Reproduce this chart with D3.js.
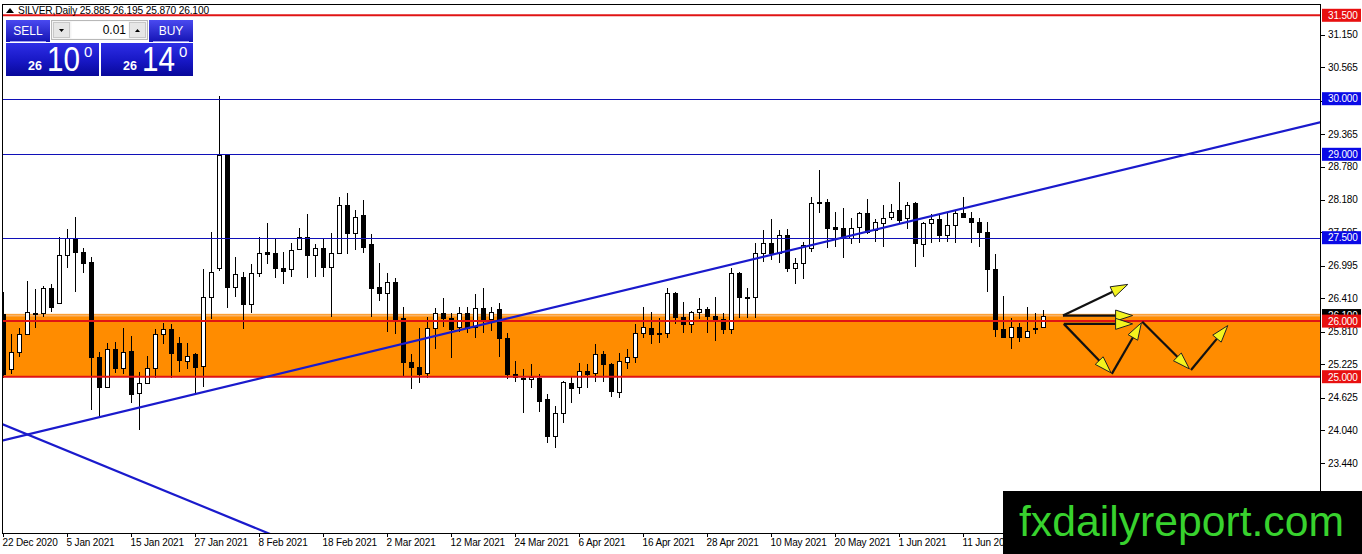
<!DOCTYPE html>
<html><head><meta charset="utf-8">
<script src="https://cdn.jsdelivr.net/npm/d3@7/dist/d3.min.js"></script>
<style>html,body{margin:0;padding:0;background:#fff;overflow:hidden}svg{display:block}</style>
</head><body>
<svg id="chart" width="1362" height="554"></svg>
<script>
// ---------------- DATA ----------------
const symbolTitle = "SILVER,Daily";
const headerValues = ["25.885", "26.195", "25.870", "26.100"];

const opens = [26.12,25.13,25.45,25.76,26.15,26.15,26.59,26.32,27.18,27.47,27.25,27.07,25.36,24.82,25.50,25.16,25.47,24.70,24.89,25.16,
25.77,25.85,25.60,25.29,25.41,25.20,26.44,26.95,28.98,26.62,26.80,26.30,26.86,27.24,27.22,26.96,26.93,27.29,27.52,27.18,
27.31,26.98,27.22,28.08,27.59,27.90,27.38,26.62,26.51,26.71,26.05,25.27,25.18,25.07,25.88,26.15,26.06,25.90,26.15,25.90,
26.24,26.03,26.22,25.70,25.04,24.98,24.96,24.98,24.60,23.94,24.35,24.89,24.82,25.11,25.07,25.40,25.23,24.73,25.27,25.36,
25.79,25.88,25.79,25.79,26.50,26.08,25.94,26.17,26.21,26.10,26.04,25.85,26.86,26.44,26.44,27.23,27.40,27.23,27.54,26.96,
27.04,27.32,28.12,28.14,27.70,27.68,27.49,27.70,27.95,27.63,27.77,27.88,27.99,27.85,28.12,27.38,27.76,27.83,27.54,27.72,
27.94,27.86,27.79,27.61,26.93,25.85,25.72,25.90,25.72,25.85,25.885];
const highs = [26.53,25.76,25.88,26.73,26.57,26.64,26.66,27.52,27.65,27.88,27.32,27.16,25.45,25.60,25.63,25.88,25.74,25.09,25.38,25.86,
25.97,25.94,25.72,25.61,25.43,26.93,27.61,30.05,28.99,27.16,26.89,27.02,27.52,27.77,27.50,27.25,27.40,27.67,27.92,27.38,
27.50,27.58,28.24,28.30,27.99,28.17,27.56,27.04,26.86,26.78,26.26,25.41,25.88,26.08,26.23,26.42,26.15,26.26,26.26,26.48,
26.60,26.26,26.33,25.79,25.29,25.14,25.22,25.05,24.69,24.48,24.93,25.02,25.25,25.23,25.58,25.47,25.24,25.43,25.50,25.95,
26.26,26.17,26.05,26.60,26.53,26.35,26.19,26.42,26.26,26.44,26.15,26.96,26.89,26.59,27.41,27.63,27.83,27.63,27.65,27.14,
27.43,28.24,28.71,28.19,27.97,28.03,27.86,27.97,28.19,27.83,28.08,28.10,28.51,28.15,28.15,27.79,27.92,27.92,27.95,27.99,
28.24,27.97,27.86,27.79,27.20,26.46,26.05,25.97,26.26,26.15,26.195];
const lows = [24.98,25.04,25.36,25.76,25.88,26.08,26.17,26.30,26.95,26.53,26.87,24.41,24.26,24.80,25.07,25.04,24.53,24.05,24.86,24.98,
25.59,24.98,25.09,25.13,24.68,24.82,26.03,26.90,26.24,26.44,25.85,26.15,26.80,27.02,26.78,26.66,26.80,27.27,26.78,26.80,
26.80,26.08,27.20,27.20,27.27,27.23,26.08,26.37,25.81,25.77,25.02,24.78,24.89,24.98,25.50,25.90,25.34,25.81,25.79,25.70,
25.79,25.83,25.36,24.96,24.91,24.35,24.80,24.37,23.81,23.72,24.17,24.53,24.69,24.80,24.91,24.91,24.64,24.62,25.13,25.25,
25.70,25.58,25.61,25.70,25.94,25.79,25.79,26.03,25.79,25.65,25.76,25.76,26.06,26.06,26.06,27.07,27.10,27.05,26.89,26.66,
26.75,27.25,27.95,27.32,27.34,27.14,27.38,27.41,27.56,27.43,27.34,27.81,27.77,27.65,26.98,27.16,27.41,27.43,27.43,27.41,
27.85,27.41,27.34,26.53,25.72,25.70,25.49,25.63,25.70,25.77,25.870];
const closes = [25.04,25.45,25.77,26.17,26.13,26.60,26.26,27.18,27.49,27.25,27.05,25.36,24.82,25.50,25.16,25.45,24.68,24.89,25.16,25.76,
25.85,25.43,25.30,25.38,25.18,26.44,26.89,28.98,26.62,26.84,26.30,26.86,27.22,27.20,26.96,26.91,27.27,27.52,27.18,27.32,
26.98,27.22,28.08,27.58,27.88,27.34,26.60,26.51,26.71,26.01,25.27,25.18,25.05,25.88,26.15,26.06,25.86,26.15,25.88,26.24,
26.03,26.17,25.70,25.04,25.00,24.96,25.00,24.57,23.94,24.35,24.91,24.80,25.11,25.05,25.40,25.22,24.75,25.29,25.36,25.79,
25.90,25.77,25.77,26.50,26.08,25.95,26.17,26.21,26.10,26.04,25.85,26.86,26.44,26.41,27.23,27.40,27.23,27.54,26.96,27.04,
27.36,28.12,28.14,27.68,27.66,27.49,27.68,27.94,27.61,27.79,27.86,27.97,27.81,28.08,27.40,27.76,27.83,27.54,27.72,27.94,
27.88,27.79,27.61,26.93,25.85,25.72,25.90,25.72,25.83,25.88,26.100];

// date labels: bar index -> label
const dateTickBars   = [0, 8, 16, 24, 32, 40, 48, 56, 64, 72, 80, 88, 96, 104, 112, 120];
const dateTickLabels = ["22 Dec 2020","5 Jan 2021","15 Jan 2021","27 Jan 2021","8 Feb 2021","18 Feb 2021","2 Mar 2021",
  "12 Mar 2021","24 Mar 2021","6 Apr 2021","16 Apr 2021","28 Apr 2021","10 May 2021","20 May 2021","1 Jun 2021","11 Jun 2021"];

const priceTicks = [31.150, 30.565, 29.965, 29.365, 28.780, 28.180, 27.595, 26.995, 26.410, 25.810, 25.225, 24.625, 24.040, 23.440];

const redLevels  = [31.5, 26.0, 25.0];
const blueLevels = [30.0, 29.0, 27.5];
const zoneRange  = [25.0, 26.13];
const bidPrice   = 26.100;

// trend lines: [barIndex, price] anchors
const trendUp   = [[-0.125, 23.85], [164.75, 29.58]];
const trendDown = [[-0.125, 24.15], [40, 21.78]];

// forecast arrows: each arrow [[barFrom, priceFrom],[barTo, priceTo]]
const arrows = [
  [[132.5, 26.10], [140.6, 26.66]],
  [[132.5, 26.10], [141.2, 26.10]],
  [[132.6, 25.95], [141.2, 25.95]],
  [[132.6, 25.95], [138.5, 25.07]],
  [[138.6, 25.05], [142.3, 25.97]],
  [[142.4, 25.99], [148.3, 25.14]],
  [[148.5, 25.12], [153.1, 25.92]]
];

const sellPrice = {big: "26", main: "10", sup: "0"};
const buyPrice  = {big: "26", main: "14", sup: "0"};
const lotSize = "0.01";
const watermark = "fxdailyreport.com";

// ---------------- CHART ----------------
const W = 1362, H = 554;
const L = 2, T = 4, R = 1321, B = 533;
const svg = d3.select("#chart");
const FONT = "'Liberation Sans', Arial, sans-serif";

const x = d3.scaleLinear().domain([-0.125, 164.75]).range([L, R]);
const y = d3.scaleLinear().domain([22.189, 31.703]).range([B, T]);

svg.append("rect").attr("width", W).attr("height", H).attr("fill", "#fff");

const defs = svg.append("defs");
defs.append("clipPath").attr("id", "plot").append("rect")
  .attr("x", L).attr("y", T).attr("width", R - L).attr("height", B - T);

const plot = svg.append("g").attr("clip-path", "url(#plot)");

// orange zone
plot.append("rect")
  .attr("x", L).attr("width", R - L)
  .attr("y", y(zoneRange[1])).attr("height", y(zoneRange[0]) - y(zoneRange[1]))
  .attr("fill", "#ff8c00");
// bid line
plot.append("line").attr("x1", L).attr("x2", R)
  .attr("y1", y(bidPrice)).attr("y2", y(bidPrice))
  .attr("stroke", "#f9b46a").attr("stroke-width", 2);

// candles
const bars = d3.range(opens.length).map(i => ({i, o: opens[i], h: highs[i], l: lows[i], c: closes[i]}));
const cg = plot.append("g").attr("shape-rendering", "crispEdges");
bars.forEach(d => {
  const cx = Math.round(x(d.i));
  cg.append("line").attr("x1", cx + 0.5).attr("x2", cx + 0.5)
    .attr("y1", y(d.h)).attr("y2", y(d.l)).attr("stroke", "#000").attr("stroke-width", 1);
  const top = y(Math.max(d.o, d.c)), bot = y(Math.min(d.o, d.c));
  const up = d.c >= d.o;
  cg.append("rect").attr("x", cx - 1.5).attr("width", 4)
    .attr("y", Math.round(top) + 0.5).attr("height", Math.max(1, Math.round(bot) - Math.round(top)))
    .attr("fill", up ? "#fff" : "#000").attr("stroke", "#000").attr("stroke-width", 1);
});

// horizontal levels
blueLevels.forEach(p => {
  plot.append("line").attr("x1", L).attr("x2", R).attr("y1", Math.round(y(p)) + 0.5).attr("y2", Math.round(y(p)) + 0.5)
    .attr("stroke", "#1010b8").attr("stroke-width", 1);
});
redLevels.forEach(p => {
  plot.append("line").attr("x1", L).attr("x2", R).attr("y1", y(p)).attr("y2", y(p))
    .attr("stroke", "#e01414").attr("stroke-width", 2);
});

// trend lines
[trendUp, trendDown].forEach(tl => {
  plot.append("line")
    .attr("x1", x(tl[0][0])).attr("y1", y(tl[0][1]))
    .attr("x2", x(tl[1][0])).attr("y2", y(tl[1][1]))
    .attr("stroke", "#1a1acc").attr("stroke-width", 2.2);
});

// arrows
const ag = plot.append("g");
arrows.forEach(a => {
  const x0 = x(a[0][0]), y0 = y(a[0][1]), x1 = x(a[1][0]), y1 = y(a[1][1]);
  const dx = x1 - x0, dy = y1 - y0, len = Math.hypot(dx, dy);
  const ux = dx / len, uy = dy / len, px = -uy, py = ux;
  const hl = 17, hw = 5.5;
  const bx = x1 - ux * hl, by = y1 - uy * hl;
  ag.append("line").attr("x1", x0).attr("y1", y0).attr("x2", bx + ux * 2).attr("y2", by + uy * 2)
    .attr("stroke", "#111").attr("stroke-width", 2.2);
  ag.append("path")
    .attr("d", `M${x1},${y1}L${bx + px * hw},${by + py * hw}L${bx - px * hw},${by - py * hw}Z`)
    .attr("fill", "#f4f41e").attr("stroke", "#222").attr("stroke-width", 1);
});

// frame
svg.append("rect").attr("x", L + 0.5).attr("y", T + 0.5).attr("width", R - L - 1).attr("height", B - T)
  .attr("fill", "none").attr("stroke", "#000").attr("stroke-width", 1).attr("shape-rendering", "crispEdges");

// right axis ticks
const ax = svg.append("g").attr("font-family", FONT).attr("font-size", 10).attr("fill", "#000");
priceTicks.forEach(p => {
  const yy = Math.round(y(p)) + 0.5;
  ax.append("line").attr("x1", R).attr("x2", R + 4).attr("y1", yy).attr("y2", yy)
    .attr("stroke", "#000").attr("shape-rendering", "crispEdges");
  ax.append("text").attr("x", R + 7).attr("y", y(p) + 3.6).attr("letter-spacing", -0.15).text(p.toFixed(3));
});

// bottom axis
dateTickBars.forEach((b, k) => {
  const xx = Math.round(x(b)) + 0.5;
  ax.append("line").attr("x1", xx).attr("x2", xx).attr("y1", B).attr("y2", B + 4)
    .attr("stroke", "#000").attr("shape-rendering", "crispEdges");
  ax.append("text").attr("x", x(b) - 0.5).attr("y", B + 13).attr("letter-spacing", -0.15).text(dateTickLabels[k]);
});

// price labels on axis
function priceLabel(p, bg) {
  const yy = y(p);
  ax.append("rect").attr("x", R + 1).attr("y", yy - 6.5).attr("width", W - R - 2).attr("height", 13).attr("fill", bg);
  ax.append("text").attr("x", R + 7).attr("y", yy + 3.8).attr("fill", "#fff").attr("letter-spacing", -0.15).text(p.toFixed(3));
}
priceLabel(bidPrice, "#000");
blueLevels.forEach(p => priceLabel(p, "#0a0ae6"));
redLevels.forEach(p => priceLabel(p, "#e81010"));

// header
svg.append("path").attr("d", "M6,13 L10,8 L14,13 Z").attr("fill", "#000");
svg.append("text").attr("x", 18).attr("y", 13.5).attr("font-family", FONT).attr("font-size", 10.2)
  .attr("letter-spacing", -0.15).attr("fill", "#000")
  .text(symbolTitle + "  " + headerValues.join(" "));

// trading panel
const gBtn = defs.append("linearGradient").attr("id", "gbtn").attr("x1", 0).attr("x2", 0).attr("y1", 0).attr("y2", 1);
gBtn.append("stop").attr("offset", 0).attr("stop-color", "#4a4af0");
gBtn.append("stop").attr("offset", 1).attr("stop-color", "#1414b4");
const gBox = defs.append("linearGradient").attr("id", "gbox").attr("x1", 0).attr("x2", 0).attr("y1", 0).attr("y2", 1);
gBox.append("stop").attr("offset", 0).attr("stop-color", "#2e2ee6");
gBox.append("stop").attr("offset", 0.55).attr("stop-color", "#1717c4");
gBox.append("stop").attr("offset", 1).attr("stop-color", "#08089a");

const pn = svg.append("g").attr("font-family", FONT);
pn.append("rect").attr("x", 6).attr("y", 20).attr("width", 44).attr("height", 22).attr("fill", "url(#gbtn)");
pn.append("rect").attr("x", 149).attr("y", 20).attr("width", 44).attr("height", 22).attr("fill", "url(#gbtn)");
pn.append("line").attr("x1", 10).attr("x2", 46).attr("y1", 41.5).attr("y2", 41.5).attr("stroke", "#9c9cf0");
pn.append("line").attr("x1", 153).attr("x2", 189).attr("y1", 41.5).attr("y2", 41.5).attr("stroke", "#9c9cf0");
pn.append("text").attr("x", 28).attr("y", 35).attr("text-anchor", "middle").attr("font-size", 12).attr("fill", "#fff").text("SELL");
pn.append("text").attr("x", 171).attr("y", 35).attr("text-anchor", "middle").attr("font-size", 12).attr("fill", "#fff").text("BUY");
// spinner
pn.append("rect").attr("x", 51.5).attr("y", 20.5).attr("width", 96).attr("height", 19).attr("fill", "#f4f4f4").attr("stroke", "#b8b8b8");
pn.append("rect").attr("x", 53.5).attr("y", 22.5).attr("width", 16).attr("height", 15).attr("fill", "#e6e6e6").attr("stroke", "#c8c8c8");
pn.append("rect").attr("x", 71.5).attr("y", 21.5).attr("width", 57).attr("height", 17).attr("fill", "#fff");
pn.append("rect").attr("x", 129.5).attr("y", 22.5).attr("width", 16).attr("height", 15).attr("fill", "#e6e6e6").attr("stroke", "#c8c8c8");
pn.append("path").attr("d", "M59,29 L64,29 L61.5,32 Z").attr("fill", "#000");
pn.append("path").attr("d", "M135,32 L140,32 L137.5,29 Z").attr("fill", "#000");
pn.append("text").attr("x", 126).attr("y", 34).attr("text-anchor", "end").attr("font-size", 12).attr("fill", "#000").text(lotSize);
// price boxes
pn.append("rect").attr("x", 6).attr("y", 43).attr("width", 93).attr("height", 33).attr("fill", "url(#gbox)");
pn.append("rect").attr("x", 101).attr("y", 43).attr("width", 92).attr("height", 33).attr("fill", "url(#gbox)");
function bigPrice(px, d) {
  pn.append("text").attr("x", px).attr("y", 70).attr("font-size", 12.5).attr("font-weight", "bold").attr("fill", "#fff").text(d.big);
  pn.append("text").attr("x", px + 19).attr("y", 71).attr("font-size", 35)
    .attr("textLength", 33).attr("lengthAdjust", "spacingAndGlyphs").attr("fill", "#fff").text(d.main);
  pn.append("text").attr("x", px + 56).attr("y", 57).attr("font-size", 15).attr("fill", "#fff").text(d.sup);
}
bigPrice(28, sellPrice);
bigPrice(123, buyPrice);

// watermark
svg.append("rect").attr("x", 1003).attr("y", 491).attr("width", W - 1003).attr("height", H - 491).attr("fill", "#000");
svg.append("text").attr("x", 1019).attr("y", 536).attr("font-family", FONT).attr("font-size", 43)
  .attr("textLength", 325).attr("lengthAdjust", "spacingAndGlyphs")
  .attr("fill", "#38d22e").text(watermark);
</script>
</body></html>
